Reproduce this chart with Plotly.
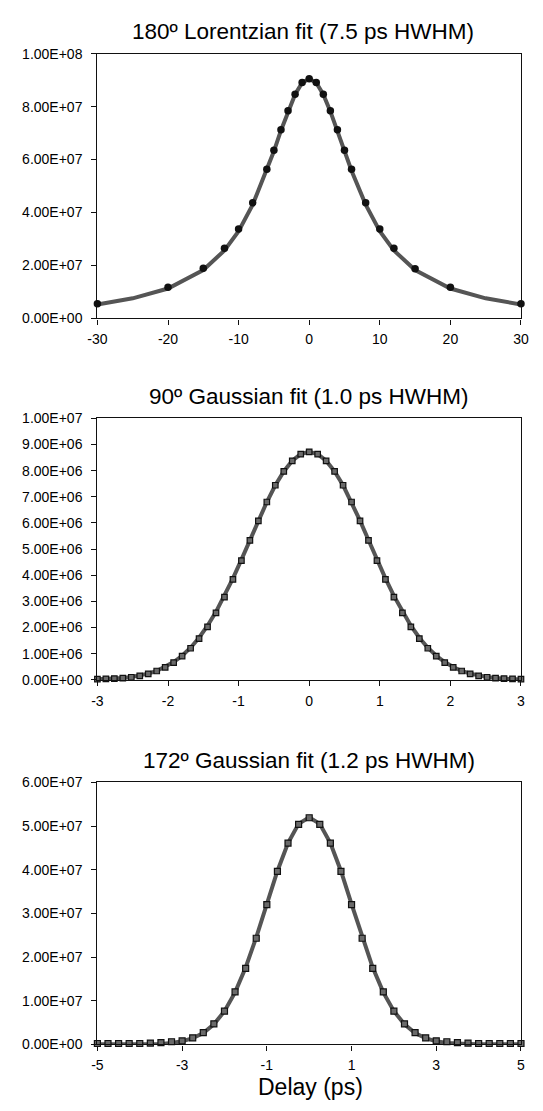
import plotly.graph_objects as go

# ---------------- data ----------------
# Panel 1: 180 deg, Lorentzian fit
p1_x = [-30, -20, -15, -12, -10, -8, -6, -5, -4, -3, -2, -1, 0,
        1, 2, 3, 4, 5, 6, 8, 10, 12, 15, 20, 30]
p1_y = [0.56e7, 1.18e7, 1.90e7, 2.65e7, 3.38e7, 4.37e7, 5.63e7, 6.35e7, 7.13e7, 7.84e7, 8.47e7, 8.91e7, 9.05e7,
        8.91e7, 8.47e7, 7.84e7, 7.13e7, 6.35e7, 5.63e7, 4.37e7, 3.38e7, 2.65e7, 1.88e7, 1.18e7, 0.56e7]
p1_fit_x = [-30, -25, -20, -15, -12, -10, -8, -6, -5, -4, -3, -2, -1, 0,
            1, 2, 3, 4, 5, 6, 8, 10, 12, 15, 20, 25, 30]
p1_fit_y = [0.53e7, 0.76e7, 1.13e7, 1.83e7, 2.57e7, 3.30e7, 4.30e7, 5.58e7, 6.31e7, 7.10e7, 7.82e7, 8.46e7, 8.90e7, 9.05e7,
            8.90e7, 8.46e7, 7.82e7, 7.10e7, 6.31e7, 5.58e7, 4.30e7, 3.30e7, 2.57e7, 1.83e7, 1.13e7, 0.76e7, 0.53e7]

# Panel 2: 90 deg, Gaussian fit
p2_x = [-3.00, -2.88, -2.76, -2.64, -2.52, -2.40, -2.28, -2.16, -2.04, -1.92, -1.80, -1.68, -1.56,
        -1.44, -1.32, -1.20, -1.08, -0.96, -0.84, -0.72, -0.60, -0.48, -0.36, -0.24, -0.12, 0.00,
        0.12, 0.24, 0.36, 0.48, 0.60, 0.72, 0.84, 0.96, 1.08, 1.20, 1.32, 1.44, 1.56,
        1.68, 1.80, 1.92, 2.04, 2.16, 2.28, 2.40, 2.52, 2.64, 2.76, 2.88, 3.00]
p2_y = [0.03e6, 0.04e6, 0.05e6, 0.07e6, 0.10e6, 0.15e6, 0.23e6, 0.34e6, 0.48e6, 0.66e6, 0.91e6, 1.21e6, 1.58e6,
        2.03e6, 2.56e6, 3.16e6, 3.84e6, 4.56e6, 5.33e6, 6.08e6, 6.80e6, 7.44e6, 7.97e6, 8.37e6, 8.63e6, 8.72e6,
        8.63e6, 8.37e6, 7.97e6, 7.44e6, 6.80e6, 6.08e6, 5.33e6, 4.56e6, 3.84e6, 3.16e6, 2.56e6, 2.03e6, 1.58e6,
        1.21e6, 0.91e6, 0.66e6, 0.48e6, 0.34e6, 0.23e6, 0.15e6, 0.10e6, 0.07e6, 0.05e6, 0.04e6, 0.03e6]
p2_fit_y = [0.02e6, 0.03e6, 0.04e6, 0.07e6, 0.11e6, 0.16e6, 0.24e6, 0.34e6, 0.49e6, 0.68e6, 0.92e6, 1.23e6, 1.61e6,
            2.07e6, 2.60e6, 3.21e6, 3.88e6, 4.60e6, 5.35e6, 6.09e6, 6.80e6, 7.44e6, 7.97e6, 8.38e6, 8.63e6, 8.72e6,
            8.63e6, 8.38e6, 7.97e6, 7.44e6, 6.80e6, 6.09e6, 5.35e6, 4.60e6, 3.88e6, 3.21e6, 2.60e6, 2.07e6, 1.61e6,
            1.23e6, 0.92e6, 0.68e6, 0.49e6, 0.34e6, 0.24e6, 0.16e6, 0.11e6, 0.07e6, 0.04e6, 0.03e6, 0.02e6]

# Panel 3: 172 deg, Gaussian fit
p3_x = [-5.00, -4.75, -4.50, -4.25, -4.00, -3.75, -3.50, -3.25, -3.00, -2.75, -2.50, -2.25, -2.00, -1.75,
        -1.50, -1.25, -1.00, -0.75, -0.50, -0.25, 0.00, 0.25, 0.50, 0.75, 1.00, 1.25, 1.50, 1.75,
        2.00, 2.25, 2.50, 2.75, 3.00, 3.25, 3.50, 3.75, 4.00, 4.25, 4.50, 4.75, 5.00]
p3_y = [0.02e7, 0.02e7, 0.02e7, 0.02e7, 0.02e7, 0.03e7, 0.04e7, 0.06e7, 0.08e7, 0.15e7, 0.27e7, 0.47e7, 0.76e7, 1.20e7,
        1.74e7, 2.43e7, 3.20e7, 3.96e7, 4.61e7, 5.04e7, 5.19e7, 5.04e7, 4.61e7, 3.96e7, 3.20e7, 2.43e7, 1.74e7, 1.20e7,
        0.76e7, 0.47e7, 0.27e7, 0.15e7, 0.08e7, 0.06e7, 0.04e7, 0.03e7, 0.02e7, 0.02e7, 0.02e7, 0.02e7, 0.02e7]
p3_fit_y = [0.00e7, 0.00e7, 0.00e7, 0.00e7, 0.00e7, 0.01e7, 0.01e7, 0.03e7, 0.07e7, 0.14e7, 0.26e7, 0.46e7, 0.76e7, 1.19e7,
            1.76e7, 2.45e7, 3.21e7, 3.97e7, 4.61e7, 5.05e7, 5.20e7, 5.05e7, 4.61e7, 3.97e7, 3.21e7, 2.45e7, 1.76e7, 1.19e7,
            0.76e7, 0.46e7, 0.26e7, 0.14e7, 0.07e7, 0.03e7, 0.01e7, 0.01e7, 0.00e7, 0.00e7, 0.00e7, 0.00e7, 0.00e7]

titles = ["180º Lorentzian fit (7.5 ps HWHM)",
          "90º Gaussian fit (1.0 ps HWHM)",
          "172º Gaussian fit (1.2 ps HWHM)"]
x_label = "Delay (ps)"

p1_xticks = [-30, -20, -10, 0, 10, 20, 30]
p2_xticks = [-3, -2, -1, 0, 1, 2, 3]
p3_xticks = [-5, -3, -1, 1, 3, 5]

p1_yticks = [0, 2e7, 4e7, 6e7, 8e7, 1e8]
p1_yticktext = ["0.00E+00", "2.00E+07", "4.00E+07", "6.00E+07", "8.00E+07", "1.00E+08"]
p2_yticks = [0, 1e6, 2e6, 3e6, 4e6, 5e6, 6e6, 7e6, 8e6, 9e6, 1e7]
p2_yticktext = ["0.00E+00", "1.00E+06", "2.00E+06", "3.00E+06", "4.00E+06", "5.00E+06",
                "6.00E+06", "7.00E+06", "8.00E+06", "9.00E+06", "1.00E+07"]
p3_yticks = [0, 1e7, 2e7, 3e7, 4e7, 5e7, 6e7]
p3_yticktext = ["0.00E+00", "1.00E+07", "2.00E+07", "3.00E+07", "4.00E+07", "5.00E+07", "6.00E+07"]

# ---------------- figure ----------------
W, H = 543, 1111
FONT = "Liberation Sans, Arial, Helvetica, sans-serif"
LINE_COLOR = "#555555"

def px_x(px):
    return px / W

def px_y(px):
    return 1 - px / H

xdom = [px_x(90.4), px_x(528.5)]
ydoms = [[px_y(315), px_y(46.3)], [px_y(681.7), px_y(416.3)], [px_y(1051.5), px_y(785.7)]]

fig = go.Figure()

# fit lines
fig.add_trace(go.Scatter(x=p1_fit_x, y=p1_fit_y, mode="lines", line=dict(color=LINE_COLOR, width=4),
                         xaxis="x", yaxis="y", cliponaxis=False, showlegend=False, hoverinfo="skip"))
fig.add_trace(go.Scatter(x=p2_x, y=p2_fit_y, mode="lines", line=dict(color=LINE_COLOR, width=4),
                         xaxis="x2", yaxis="y2", cliponaxis=False, showlegend=False, hoverinfo="skip"))
fig.add_trace(go.Scatter(x=p3_x, y=p3_fit_y, mode="lines", line=dict(color=LINE_COLOR, width=4),
                         xaxis="x3", yaxis="y3", cliponaxis=False, showlegend=False, hoverinfo="skip"))

# data markers
fig.add_trace(go.Scatter(x=p1_x, y=p1_y, mode="markers",
                         marker=dict(symbol="circle", size=7.5, color="#111111", line=dict(width=0)),
                         xaxis="x", yaxis="y", cliponaxis=False, showlegend=False))
fig.add_trace(go.Scatter(x=p2_x, y=p2_y, mode="markers",
                         marker=dict(symbol="square", size=5.5, color="#6a6a6a", line=dict(width=1.2, color="#111111")),
                         xaxis="x2", yaxis="y2", cliponaxis=False, showlegend=False))
fig.add_trace(go.Scatter(x=p3_x, y=p3_y, mode="markers",
                         marker=dict(symbol="square", size=6, color="#6a6a6a", line=dict(width=1.2, color="#111111")),
                         xaxis="x3", yaxis="y3", cliponaxis=False, showlegend=False))

tickfont = dict(family=FONT, size=14, color="#000000")

def xaxis(anchor, rng, ticks):
    return dict(domain=xdom, anchor=anchor, range=rng, tickvals=ticks, ticktext=[str(t) for t in ticks],
                showgrid=False, zeroline=False, showline=True, linecolor="#111111", linewidth=1.3,
                mirror=True, ticks="outside", ticklen=5, tickwidth=1.2, tickcolor="#111111",
                tickfont=tickfont, ticklabelstandoff=3, fixedrange=True)

def yaxis(anchor, dom, rng, ticks, text):
    return dict(domain=dom, anchor=anchor, range=rng, tickvals=ticks, ticktext=text,
                showgrid=False, zeroline=False, showline=True, linecolor="#111111", linewidth=1.3,
                mirror=True, ticks="outside", ticklen=5, tickwidth=1.2, tickcolor="#111111",
                tickfont=tickfont, ticklabelstandoff=6, fixedrange=True)

fig.update_layout(
    width=W, height=H, margin=dict(l=0, r=0, t=0, b=0),
    paper_bgcolor="white", plot_bgcolor="white",
    xaxis=xaxis("y", [-30, 30], p1_xticks),
    yaxis=yaxis("x", ydoms[0], [0, 1e8], p1_yticks, p1_yticktext),
    xaxis2=xaxis("y2", [-3, 3], p2_xticks),
    yaxis2=yaxis("x2", ydoms[1], [0, 1e7], p2_yticks, p2_yticktext),
    xaxis3=xaxis("y3", [-5, 5], p3_xticks),
    yaxis3=yaxis("x3", ydoms[2], [0, 6e7], p3_yticks, p3_yticktext),
)

title_y = [23.5, 394, 763.5]
title_x = [303, 309, 309]
for t, yy, xx in zip(titles, title_y, title_x):
    fig.add_annotation(text=t, xref="paper", yref="paper", x=px_x(xx), y=px_y(yy),
                       xanchor="center", yanchor="middle", showarrow=False,
                       font=dict(family=FONT, size=22.5, color="#000000"))

fig.add_annotation(text=x_label, xref="paper", yref="paper", x=px_x(311), y=px_y(1095),
                   xanchor="center", yanchor="middle", showarrow=False,
                   font=dict(family=FONT, size=23, color="#000000"))

fig.write_html("out.html")
